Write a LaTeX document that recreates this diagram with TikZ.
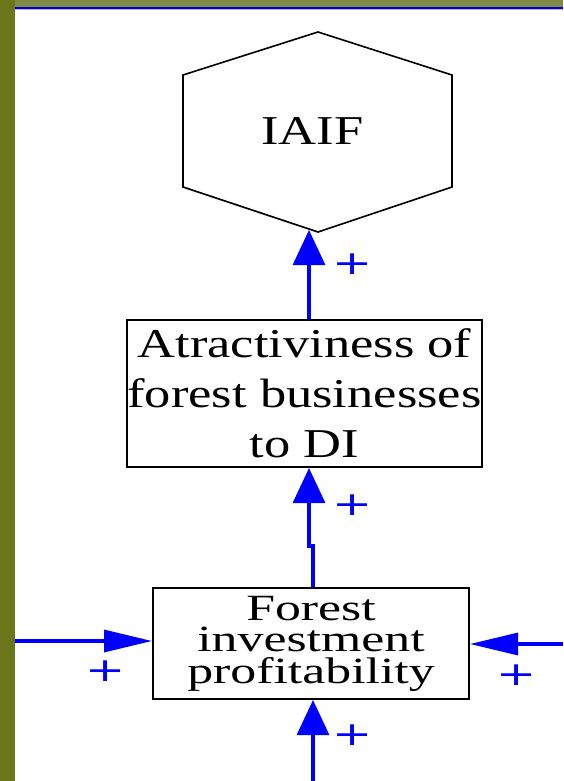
\documentclass[tikz,border=0pt]{standalone}
\usepackage{fontspec}
\usepackage{tikz}
\usetikzlibrary{arrows.meta}
\usetikzlibrary{positioning}
\newfontfamily\boxfont[FakeStretch=1.28]{Liberation Serif}
\newfontfamily\flowfont[FakeStretch=1.4]{Liberation Serif}
\newfontfamily\signfont[FakeStretch=1.45]{DejaVu Sans}
\definecolor{olivebg}{rgb}{0.42,0.46,0.10}
\definecolor{olivetop}{rgb}{0.50,0.54,0.28}
\definecolor{linkblue}{rgb}{0,0,1}
\definecolor{ruleblue}{rgb}{0,0,0.78}

\begin{document}
\begin{tikzpicture}[line cap=butt,line join=miter, x=1pt,y=-1pt,
	varbox/.style={draw=black, line width=2pt, inner sep=0pt, align=center},
	link/.style={draw=linkblue, line width=3.2pt},
	tipv/.style={-{Triangle[length=35pt, width=32pt]}},
	tiph/.style={-{Triangle[length=48pt, width=22pt]}},
	sign/.style={text=linkblue, inner sep=0pt, font=\signfont\fontsize{33}{33}\selectfont}]
	\useasboundingbox (0,0) rectangle (563,781);
	\fill[olivebg] (0,0) rectangle (563,781);
	\fill[olivetop] (15,0) rectangle (563,8);
	\fill[white] (15,9) rectangle (563,781);
	\draw[ruleblue, line width=2pt] (15,8.5) -- (563,8.5);
	\draw[linkblue!30, line width=1pt] (15,10) -- (563,10);
	\draw[color=black, line width=1.6pt] (318,32) -- (452,75) -- (452,187) -- (318,232) -- (183,187) -- (183,75) -- cycle;
	\node[font=\boxfont\fontsize{41}{41}\selectfont, inner sep=0pt] (iaif) at (312.5,130.5) {IAIF};
	\coordinate (iaifbase) at (309,230);
	\node[varbox, minimum width=355pt, minimum height=147pt, font=\boxfont\fontsize{41}{50}\selectfont] (attract) at (304.5,393.5) {Atractiviness of\\forest businesses\\to DI};
	\node[varbox, minimum width=316pt, minimum height=111pt, font=\flowfont\fontsize{37}{31.5}\selectfont] (profit) at (311,643.5) {Forest\\investment\\profitability};
	\coordinate (leftsrc) at (15,641);
	\coordinate (rightsrc) at (563,644);
	\coordinate (bottomsrc) at (313,781);
	\draw[link, tipv] (attract.north -| iaifbase) -- (iaifbase);
	\draw[link, tipv] ([xshift=2pt]profit.north) -- ++(0,-41) -| ([xshift=4.5pt]attract.south);
	\draw[link, tiph] (leftsrc) -- (profit.west |- leftsrc);
	\draw[link, tiph] (rightsrc) -- (profit.east |- rightsrc);
	\draw[link, tipv] (bottomsrc) -- (profit.south -| bottomsrc);
	\node[sign] (plusiaif) at (353,264) {+};
	\node[sign] (plusattract) at (353,505) {+};
	\node[sign] (plusleft) at (106,671) {+};
	\node[sign] (plusright) at (517,675.5) {+};
	\node[sign] (plusbottom) at (353,735.5) {+};
\end{tikzpicture}
\end{document}
